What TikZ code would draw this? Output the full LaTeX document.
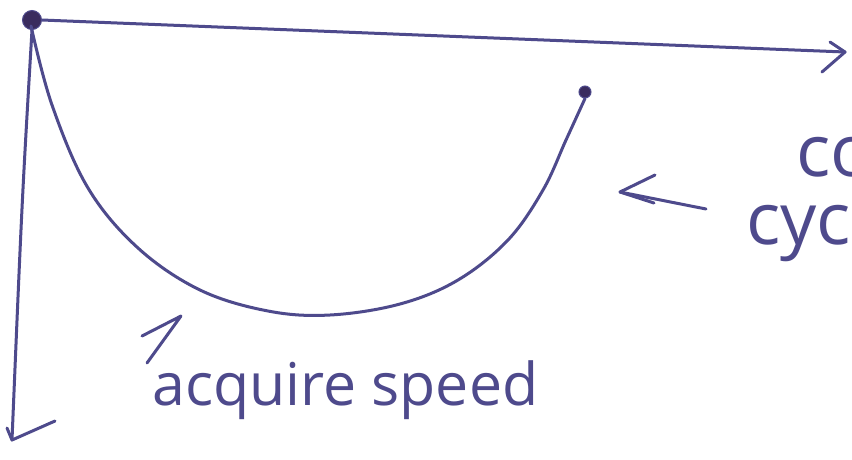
\documentclass[tikz,border=0pt]{standalone}
\usepackage{fontspec}
\newfontfamily\handfont{Open Sans}
\definecolor{ink}{HTML}{4E4A8C}
\definecolor{inkdark}{HTML}{3A2C5E}
\tikzset{
  pen/.style={draw=ink, line width=3pt, line cap=round, line join=round},
  inkdot/.style={circle, fill=inkdark, draw=ink, line width=1pt, inner sep=0pt},
  handtext/.style={text=ink, font=\handfont, inner sep=0pt, anchor=base west}
}
\begin{document}
\begin{tikzpicture}[x=1pt,y=-1pt]
\useasboundingbox (0,0) rectangle (852,459);
\clip (0,0) rectangle (852,459);
\fill[white] (0,0) rectangle (852,459);
% origin and end dots
\node[inkdot, minimum size=19pt] (o) at (32,20) {};
\node[inkdot, minimum size=12pt] (e) at (585,92) {};
% x axis with hand-drawn head
\coordinate (xend) at (845,52);
\coordinate (xh1) at (830,42);
\coordinate (xh2) at (822,72);
\draw[pen] (o.east) -- (xend);
\draw[pen] (xh1) -- (xend) -- (xh2);
% y axis with hand-drawn head
\coordinate (yend) at (12,440);
\coordinate (yh1) at (7,428);
\coordinate (yh2) at (55,421);
\draw[pen] (o.south) .. controls (22,200) .. (yend);
\draw[pen] (yh1) -- (yend) -- (yh2);
% curve
\draw[pen] plot[smooth, tension=0.6] coordinates {(31,26) (52,105) (88,188) (138,248) (200,290) (268,311) (330,315) (400,304) (458,280) (508,240) (543,190) (566,140) (e.south)};
% arrow towards the curve
\coordinate (a1s) at (706,209);
\coordinate (a1t) at (620,192);
\coordinate (a1u) at (655,175);
\coordinate (a1d) at (654,203);
\draw[pen] (a1s) -- (a1t);
\draw[pen] (a1u) -- (a1t) -- (a1d);
% arrow near acquire speed
\coordinate (a2s) at (147,363);
\coordinate (a2t) at (181,316);
\coordinate (a2b) at (142,336);
\draw[pen] (a2s) -- (a2t) -- (a2b);
% texts
\node[handtext, font=\handfont\fontsize{72}{80}\selectfont] (co) at (796,176) {co};
\node[handtext, font=\handfont\fontsize{72}{80}\selectfont] (cyc) at (746,244) {cyc};
\node[handtext, font=\handfont\fontsize{59}{64}\selectfont] (as) at (152,405) {acquire speed};
\end{tikzpicture}
\end{document}
